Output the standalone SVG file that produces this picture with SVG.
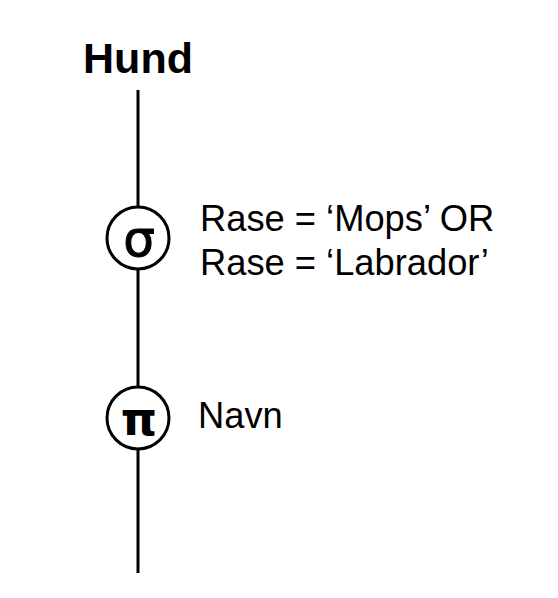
<svg xmlns="http://www.w3.org/2000/svg" width="558" height="598" viewBox="0 0 558 598">
<style>
.t{font-family:"Liberation Sans",Arial,sans-serif;fill:#000}
.g{font-family:"DejaVu Sans",sans-serif;fill:#000}
.c{fill:#fff;stroke:#000;stroke-width:3}
.l{stroke:#000;stroke-width:3;fill:none}
</style>
<rect width="558" height="598" fill="#fff"/>
<g id="connectors">
<line class="l" x1="138" y1="90" x2="138" y2="207"/>
<line class="l" x1="138" y1="269" x2="138" y2="387"/>
<line class="l" x1="138" y1="449" x2="138" y2="573"/>
</g>
<g id="hund">
<text class="t" x="138" y="73" font-size="43" font-weight="bold" text-anchor="middle">Hund</text>
</g>
<g id="sigma">
<circle class="c" cx="138" cy="238" r="31"/>
<text class="g" x="139" y="256" font-size="50" text-anchor="middle" stroke="#000" stroke-width="1">σ</text>
<text class="t" x="200" y="231" font-size="36.3">Rase = ‘Mops’ OR</text>
<text class="t" x="200" y="275" font-size="36.3">Rase = ‘Labrador’</text>
</g>
<g id="pi">
<circle class="c" cx="138" cy="418" r="31"/>
<text class="g" x="139" y="435" font-size="46" font-weight="bold" text-anchor="middle">π</text>
<text class="t" x="198" y="428" font-size="36.3">Navn</text>
</g>
</svg>
